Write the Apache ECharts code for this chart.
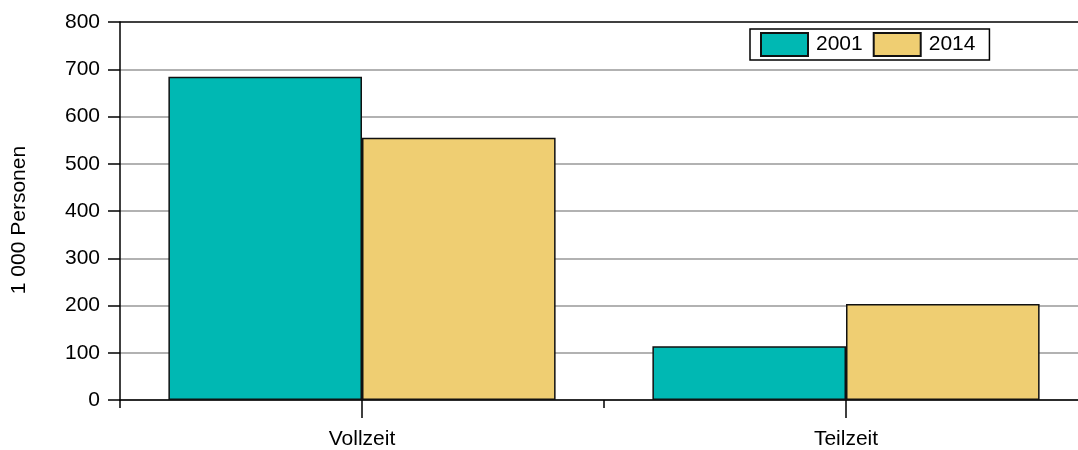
<!DOCTYPE html>
<html><head><meta charset="utf-8">
<script src="https://cdn.jsdelivr.net/npm/echarts@6/dist/echarts.min.js"></script>
<style>html,body{margin:0;padding:0;background:#fff;overflow:hidden}#c{width:1100px;height:450px}</style>
</head><body><div id="c"></div>
<script>
var categories = ['Vollzeit', 'Teilzeit'];
var values2001 = [684, 114];
var values2014 = [555, 203];
var seriesNames = ['2001', '2014'];
var yTicks = [0, 100, 200, 300, 400, 500, 600, 700, 800];

var chart = echarts.init(document.getElementById('c'));
var font = 'Liberation Sans, Arial, sans-serif';
chart.setOption({
  animation: false,
  textStyle: { fontFamily: font },
  grid: { left: 120, top: 22, width: 968, bottom: 50, containLabel: false },
  legend: {
    show: true,
    left: 750, top: 29,
    icon: 'rect',
    itemWidth: 47, itemHeight: 23, itemGap: 10,
    padding: [3, 14, 3, 10],
    borderColor: '#000', borderWidth: 1.5,
    textStyle: { fontSize: 21, color: '#000', fontFamily: font, padding: [0, 0, 0, 3] },
    data: seriesNames
  },
  xAxis: [{
    type: 'category', data: categories,
    axisLine: { lineStyle: { color: '#000', width: 1.5 } },
    axisTick: { show: true, length: 8, lineStyle: { color: '#000', width: 1.5 } },
    axisLabel: { show: false }
  }, {
    type: 'category', data: categories, position: 'bottom',
    axisLine: { show: false },
    axisTick: { show: true, alignWithLabel: true, length: 18, lineStyle: { color: '#000', width: 1.5 } },
    axisLabel: { fontSize: 21, color: '#000', margin: 29, fontFamily: font }
  }],
  yAxis: {
    type: 'value', min: 0, max: 800, interval: 100,
    name: '1 000 Personen', nameLocation: 'middle', nameGap: 90,
    nameTextStyle: { fontSize: 21, color: '#000', fontFamily: font, padding: [0, 18, 0, 0] },
    axisLine: { show: true, lineStyle: { color: '#000', width: 1.5 } },
    axisTick: { show: true, length: 12, lineStyle: { color: '#000', width: 1.5 } },
    axisLabel: { fontSize: 21, color: '#000', margin: 20, fontFamily: font,
      formatter: function (v) { return yTicks.indexOf(v) >= 0 ? String(v) : ''; } },
    splitLine: { show: true, lineStyle: { color: ['#999','#999','#999','#999','#999','#999','#999','#999','#000'], width: 1.5 } }
  },
  series: [{
    name: seriesNames[0], type: 'bar', data: values2001, xAxisIndex: 0,
    barGap: '0%', barCategoryGap: '20%',
    itemStyle: { color: '#00b8b3', borderColor: '#111', borderWidth: 1.5 }
  }, {
    name: seriesNames[1], type: 'bar', data: values2014, xAxisIndex: 0,
    barGap: '0%', barCategoryGap: '20%',
    itemStyle: { color: '#efce72', borderColor: '#111', borderWidth: 1.5 }
  }]
});
</script></body></html>
